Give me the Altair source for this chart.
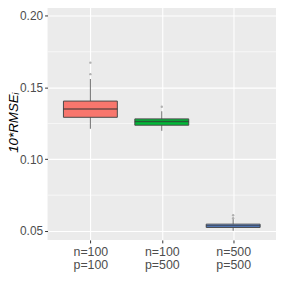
import altair as alt
import pandas as pd

groups = ["n=100|p=100", "n=100|p=500", "n=500|p=500"]
fills = ["#F8766D", "#00BA38", "#619CFF"]
q1 = [0.1293, 0.1238, 0.0525]
median = [0.1351, 0.1264, 0.0537]
q3 = [0.1406, 0.1282, 0.0548]
whisk_lo = [0.1213, 0.1199, 0.0502]
whisk_hi = [0.1560, 0.1335, 0.0583]
out_group = ["n=100|p=100", "n=100|p=100", "n=100|p=500", "n=500|p=500", "n=500|p=500"]
out_value = [0.1674, 0.1594, 0.1367, 0.0610, 0.0590]
major_ticks = [0.05, 0.10, 0.15, 0.20]
minor_ticks = [0.075, 0.125, 0.175]

box = pd.DataFrame({"g": groups, "q1": q1, "med": median, "q3": q3,
                    "lo": whisk_lo, "hi": whisk_hi})
out = pd.DataFrame({"g": out_group, "v": out_value})
minor = pd.DataFrame({"v": minor_ticks, "g": [groups[0]] * 3})

yscale = alt.Scale(domain=[0.0438, 0.2079], nice=False, zero=False)
xscale = alt.Scale(domain=groups, type="point", padding=0.6)

xaxis = alt.Axis(title=None, labelExpr="split(datum.label, '|')",
                 labelAngle=0, labelFontSize=12.5, labelLineHeight=13,
                 labelPadding=3, grid=True)
yaxis = alt.Axis(title="10*RMSEᵢ", values=major_ticks, format=".2f",
                 titleFontStyle="italic", titleFontWeight="normal",
                 titleFontSize=13.5, titleColor="#000000",
                 titleX=-27, labelFontSize=12, labelPadding=2)


def X():
    return alt.X("g:N", scale=xscale, sort=groups, axis=xaxis)


minor_rules = alt.Chart(minor).mark_rule(color="white", strokeWidth=0.6).encode(
    y=alt.Y("v:Q", scale=yscale, axis=yaxis))

whiskers = alt.Chart(box).mark_rule(color="#6E6E6E", strokeWidth=1).encode(
    x=X(), y=alt.Y("lo:Q", scale=yscale, axis=yaxis), y2="hi:Q")

boxes = alt.Chart(box).mark_bar(size=54.5, stroke="#4A4A4A", strokeWidth=1).encode(
    x=X(), y=alt.Y("q1:Q", scale=yscale, axis=yaxis), y2="q3:Q",
    fill=alt.Fill("g:N", scale=alt.Scale(domain=groups, range=fills), legend=None))

medians = alt.Chart(box).mark_tick(size=54.5, thickness=1.6, color="#333333").encode(
    x=X(), y=alt.Y("med:Q", scale=yscale, axis=yaxis))

outliers = alt.Chart(out).mark_circle(size=6, color="#AAAAAA", opacity=0.9).encode(
    x=X(), y=alt.Y("v:Q", scale=yscale, axis=yaxis))

chart = alt.layer(minor_rules, whiskers, boxes, medians, outliers).properties(
    width=231, height=238,
    background="white",
    autosize=alt.AutoSizeParams(type="none"),
    padding={"left": 40, "top": -5, "right": 0, "bottom": 40},
).configure_view(fill="#EBEBEB", stroke=None).configure_axis(
    domain=False, tickColor="#333333", tickSize=3, labelColor="#4D4D4D",
    labelFont="Liberation Sans", titleFont="Liberation Sans",
    gridColor="#FFFFFF", gridWidth=1.1,
)

chart.save("out.html", embed_options={"renderer": "svg", "actions": False})
